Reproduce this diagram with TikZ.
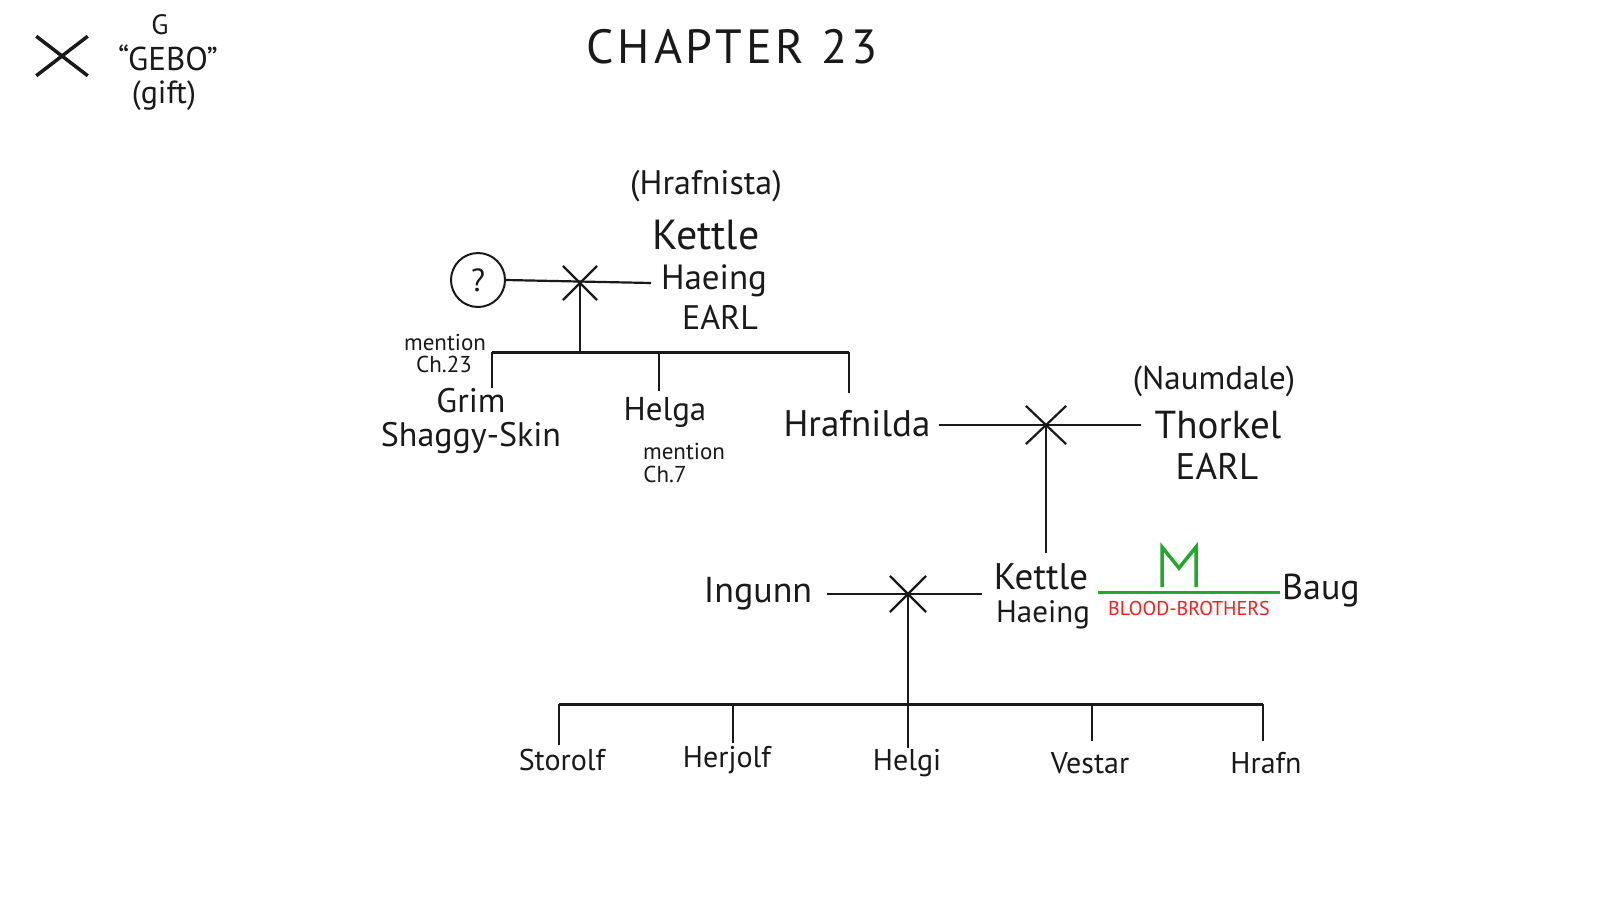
\documentclass[tikz,border=0pt]{standalone}
\usepackage{fontspec}
\setmainfont{PT Sans}
\usetikzlibrary{shapes.misc}
\newcommand\fs[1]{\fontsize{#1}{#1}\selectfont}
\definecolor{ink}{HTML}{1A1A1A}
\definecolor{runegreen}{HTML}{22A82A}
\definecolor{bbred}{HTML}{F02020}
\begin{document}
\begin{tikzpicture}[x=1pt,y=-1pt,
  txt/.style={inner sep=1pt,text=ink,anchor=center},
  link/.style={draw=ink,line width=2.2pt},
  bar/.style={draw=ink,line width=3pt},
  wed/.style={cross out,draw=ink,line width=2.2pt,minimum width=32pt,minimum height=32pt,inner sep=0pt},
]
\useasboundingbox[fill=white] (0,0) rectangle (1600,900);

% legend
\node[cross out,draw=ink,line width=3.5pt,minimum width=48pt,minimum height=36pt,inner sep=0pt] (gebo) at (62,56) {};
\node[txt,font=\fs{28}] (gl) at (160,25) {G};
\node[txt,font=\fs{33}] (gname) at (168,58) {“GEBO”};
\node[txt,font=\fs{32}] (gift) at (164,96) {(gift)};

\node[txt,font=\fs{48}\addfontfeature{LetterSpace=8}] (title) at (732,47) {CHAPTER 23};

% first generation
\node[txt,font=\fs{34}] (hrafnista) at (706,186) {(Hrafnista)};
\node[txt,font=\fs{42}] (kettle1) at (706,235) {Kettle};
\node[txt,font=\fs{35}] (haeing1) at (714,281) {Haeing};
\node[txt,font=\fs{34}] (earl1) at (720,317) {EARL};
\node[circle,draw=ink,line width=2pt,minimum size=54pt,inner sep=0pt,font=\fs{32},text=ink] (q) at (478,280) {?};

\coordinate (m1) at (580,283);
\coordinate (h1end) at (651,283);
\draw[link] (q.east) -- (h1end);
\node[wed] (x1) at (m1) {};
\coordinate (b1) at (580,352);
\draw[link] (m1) -- (b1);
\coordinate (b1L) at (492,352);
\coordinate (b1M) at (659,352);
\coordinate (b1R) at (849,352);
\draw[bar] (b1L) -- (b1R);

% children
\node[txt,font=\fs{23}] (men1) at (445,342) {mention};
\node[txt,font=\fs{23}] (ch23) at (444,364) {Ch.23};
\node[txt,font=\fs{34}] (grim) at (471,401) {Grim};
\node[txt,font=\fs{34}] (shaggy) at (471,438) {Shaggy-Skin};
\node[txt,font=\fs{33}] (helga) at (665,412) {Helga};
\node[txt,font=\fs{23}] (men2) at (684,451) {mention};
\node[txt,font=\fs{23}] (ch7) at (665,474) {Ch.7};
\node[txt,font=\fs{37}] (hrafnilda) at (857,424) {Hrafnilda};

\coordinate (d1) at (492,388);
\coordinate (d2) at (659,391);
\coordinate (d3) at (849,393);
\draw[link] (b1L) -- (d1);
\draw[link] (b1M) -- (d2);
\draw[link] (b1R) -- (d3);

% Hrafnilda + Thorkel
\node[txt,font=\fs{33}] (naumdale) at (1214,381) {(Naumdale)};
\node[txt,font=\fs{39}] (thorkel) at (1218,425) {Thorkel};
\node[txt,font=\fs{37}] (earl2) at (1217,466) {EARL};
\coordinate (m2) at (1046,425);
\coordinate (h2s) at (939,425);
\coordinate (h2e) at (1141,425);
\draw[link] (h2s) -- (h2e);
\node[wed,minimum width=38pt,minimum height=36pt] (x2) at (m2) {};
\coordinate (k2top) at (1046,553);
\draw[link] (m2) -- (k2top);

% Kettle Haeing + Ingunn
\node[txt,font=\fs{36}] (ingunn) at (758,594) {Ingunn};
\node[txt,font=\fs{37}] (kettle2) at (1041,577) {Kettle};
\node[txt,font=\fs{31}] (haeing2) at (1043,615) {Haeing};
\node[txt,font=\fs{36}] (baug) at (1321,591) {Baug};
\coordinate (m3) at (908,594);
\coordinate (i3s) at (827,594);
\coordinate (i3e) at (982,594);
\draw[link] (i3s) -- (i3e);
\node[wed,minimum width=34pt,minimum height=34pt] (x3) at (m3) {};

% blood brothers
\coordinate (gL) at (1098,592);
\coordinate (gR) at (1280,592);
\draw[draw=runegreen,line width=3pt] (gL) -- (gR);
\draw[draw=runegreen,line width=3.5pt,line join=miter] (1162,587) -- (1162,547) -- (1179,568) -- (1196,547) -- (1196,587);
\node[txt,font=\fs{20},text=bbred] (bb) at (1189,608) {BLOOD-BROTHERS};

% grandchildren
\coordinate (b3) at (908,704);
\draw[link] (m3) -- (b3);
\coordinate (b3L) at (559,704);
\coordinate (b3a) at (733,704);
\coordinate (b3c) at (1092,704);
\coordinate (b3R) at (1263,704);
\draw[bar] (b3L) -- (b3R);
\coordinate (e1) at (559,745);
\coordinate (e2) at (733,743);
\coordinate (e3) at (908,748);
\coordinate (e4) at (1092,741);
\coordinate (e5) at (1263,741);
\draw[link] (b3L) -- (e1);
\draw[link] (b3a) -- (e2);
\draw[link] (b3) -- (e3);
\draw[link] (b3c) -- (e4);
\draw[link] (b3R) -- (e5);
\node[txt,font=\fs{30}] (storolf) at (562,760) {Storolf};
\node[txt,font=\fs{30}] (herjolf) at (727,760) {Herjolf};
\node[txt,font=\fs{30}] (helgi) at (907,763) {Helgi};
\node[txt,font=\fs{30}] (vestar) at (1090,763) {Vestar};
\node[txt,font=\fs{30}] (hrafn) at (1266,763) {Hrafn};
\end{tikzpicture}
\end{document}
